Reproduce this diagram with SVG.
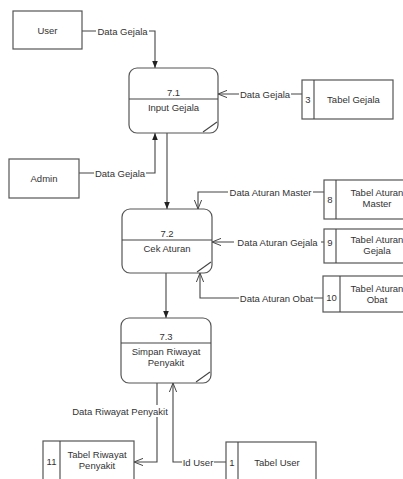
<svg xmlns="http://www.w3.org/2000/svg" width="403" height="479" viewBox="0 0 403 479">
<style>
.box{fill:#fff;stroke:#555;stroke-width:1.2}
.ln{fill:none;stroke:#444;stroke-width:1.1}
.t{font-family:"Liberation Sans",Arial,sans-serif;font-size:9.5px;fill:#333;text-anchor:middle}
.lb{font-family:"Liberation Sans",Arial,sans-serif;font-size:9.5px;fill:#333;text-anchor:middle}
.bg{fill:#fff}
</style>
<defs>
<marker id="fa" viewBox="0 0 10 10" refX="10" refY="5" markerWidth="7" markerHeight="7" orient="auto" markerUnits="userSpaceOnUse"><path d="M0,1 L10,5 L0,9 z" fill="#222"/></marker>
<marker id="oa" viewBox="0 0 10 10" refX="10" refY="5" markerWidth="9" markerHeight="9" orient="auto" markerUnits="userSpaceOnUse"><path d="M0,1 L10,5 L0,9" fill="none" stroke="#444" stroke-width="1.1"/></marker>
</defs>
<rect width="403" height="479" fill="#fff"/>
<g id="connectors">
<path class="ln" d="M82,31 H155 V68" marker-end="url(#fa)"/>
<path class="ln" d="M79,173 H155 V133" marker-end="url(#fa)"/>
<path class="ln" d="M302,94 H218" marker-end="url(#oa)"/>
<path class="ln" d="M167,133 V209" marker-end="url(#fa)"/>
<path class="ln" d="M324,192 H198 V209" marker-end="url(#oa)"/>
<path class="ln" d="M324,242 H212" marker-end="url(#oa)"/>
<path class="ln" d="M323,298 H200 V273" marker-end="url(#oa)"/>
<path class="ln" d="M166,273 V318" marker-end="url(#fa)"/>
<path class="ln" d="M157,383 V462 H134" marker-end="url(#oa)"/>
<path class="ln" d="M226,462 H173 V383" marker-end="url(#oa)"/>
<rect class="bg" x="96" y="25" width="53" height="12"/>
<text class="lb" x="122.5" y="34.5">Data Gejala</text>
<rect class="bg" x="94" y="167" width="52" height="12"/>
<text class="lb" x="120" y="176.5">Data Gejala</text>
<rect class="bg" x="239" y="88" width="52" height="12"/>
<text class="lb" x="265" y="97.5">Data Gejala</text>
<rect class="bg" x="228" y="186" width="85" height="12"/>
<text class="lb" x="270.5" y="195.5">Data Aturan Master</text>
<rect class="bg" x="234" y="236" width="87" height="12"/>
<text class="lb" x="277.5" y="245.5">Data Aturan Gejala</text>
<rect class="bg" x="239" y="292" width="75" height="12"/>
<text class="lb" x="276.5" y="301.5">Data Aturan Obat</text>
<rect class="bg" x="71" y="405" width="98" height="12"/>
<text class="lb" x="120" y="414.5">Data Riwayat Penyakit</text>
<rect class="bg" x="182" y="456" width="32" height="12"/>
<text class="lb" x="198" y="465.5">Id User</text>
</g>
<g id="user">
<rect class="box" x="13" y="11" width="69" height="38"/>
<text class="t" x="47.5" y="33.5">User</text>
</g>
<g id="admin">
<rect class="box" x="9" y="159" width="70" height="39"/>
<text class="t" x="44" y="181.5">Admin</text>
</g>
<g id="p71">
<rect class="box" x="129" y="68" width="89" height="65" rx="8"/>
<line class="ln" x1="129" y1="99" x2="218" y2="99"/>
<line class="ln" x1="217" y1="122" x2="203" y2="132"/>
<text class="t" x="173.5" y="96">7.1</text>
<text class="t" x="173.5" y="111">Input Gejala</text>
</g>
<g id="p72">
<rect class="box" x="122" y="209" width="90" height="64" rx="8"/>
<line class="ln" x1="122" y1="240" x2="212" y2="240"/>
<line class="ln" x1="211" y1="262" x2="197" y2="272"/>
<text class="t" x="167" y="237">7.2</text>
<text class="t" x="167" y="252">Cek Aturan</text>
</g>
<g id="p73">
<rect class="box" x="121" y="318" width="90" height="65" rx="8"/>
<line class="ln" x1="121" y1="343" x2="211" y2="343"/>
<line class="ln" x1="210" y1="372" x2="196" y2="382"/>
<text class="t" x="166" y="340">7.3</text>
<text class="t" x="166" y="355">Simpan Riwayat</text>
<text class="t" x="166" y="366">Penyakit</text>
</g>
<g id="tabel-gejala">
<rect class="box" x="302" y="80" width="91" height="39"/>
<line class="ln" x1="314" y1="80" x2="314" y2="119"/>
<text class="t" x="308" y="102.5">3</text>
<text class="t" x="353.5" y="102.5">Tabel Gejala</text>
</g>
<g id="tabel-aturan-master">
<rect class="box" x="324" y="180" width="94" height="39"/>
<line class="ln" x1="336" y1="180" x2="336" y2="219"/>
<text class="t" x="330" y="203">8</text>
<text class="t" x="377" y="196">Tabel Aturan</text>
<text class="t" x="377" y="207">Master</text>
</g>
<g id="tabel-aturan-gejala">
<rect class="box" x="324" y="229" width="94" height="34"/>
<line class="ln" x1="336" y1="229" x2="336" y2="263"/>
<text class="t" x="330" y="245.5">9</text>
<text class="t" x="377" y="243">Tabel Aturan</text>
<text class="t" x="377" y="254">Gejala</text>
</g>
<g id="tabel-aturan-obat">
<rect class="box" x="323" y="276" width="95" height="36"/>
<line class="ln" x1="340" y1="276" x2="340" y2="312"/>
<text class="t" x="331.5" y="301">10</text>
<text class="t" x="377" y="292">Tabel Aturan</text>
<text class="t" x="377" y="303">Obat</text>
</g>
<g id="tabel-riwayat">
<rect class="box" x="43" y="441" width="91" height="40"/>
<line class="ln" x1="60" y1="441" x2="60" y2="481"/>
<text class="t" x="51.5" y="464.5">11</text>
<text class="t" x="97" y="458">Tabel Riwayat</text>
<text class="t" x="97" y="469">Penyakit</text>
</g>
<g id="tabel-user">
<rect class="box" x="226" y="442" width="90" height="40"/>
<line class="ln" x1="238" y1="442" x2="238" y2="482"/>
<text class="t" x="232" y="465.5">1</text>
<text class="t" x="277" y="465.5">Tabel User</text>
</g>
</svg>
